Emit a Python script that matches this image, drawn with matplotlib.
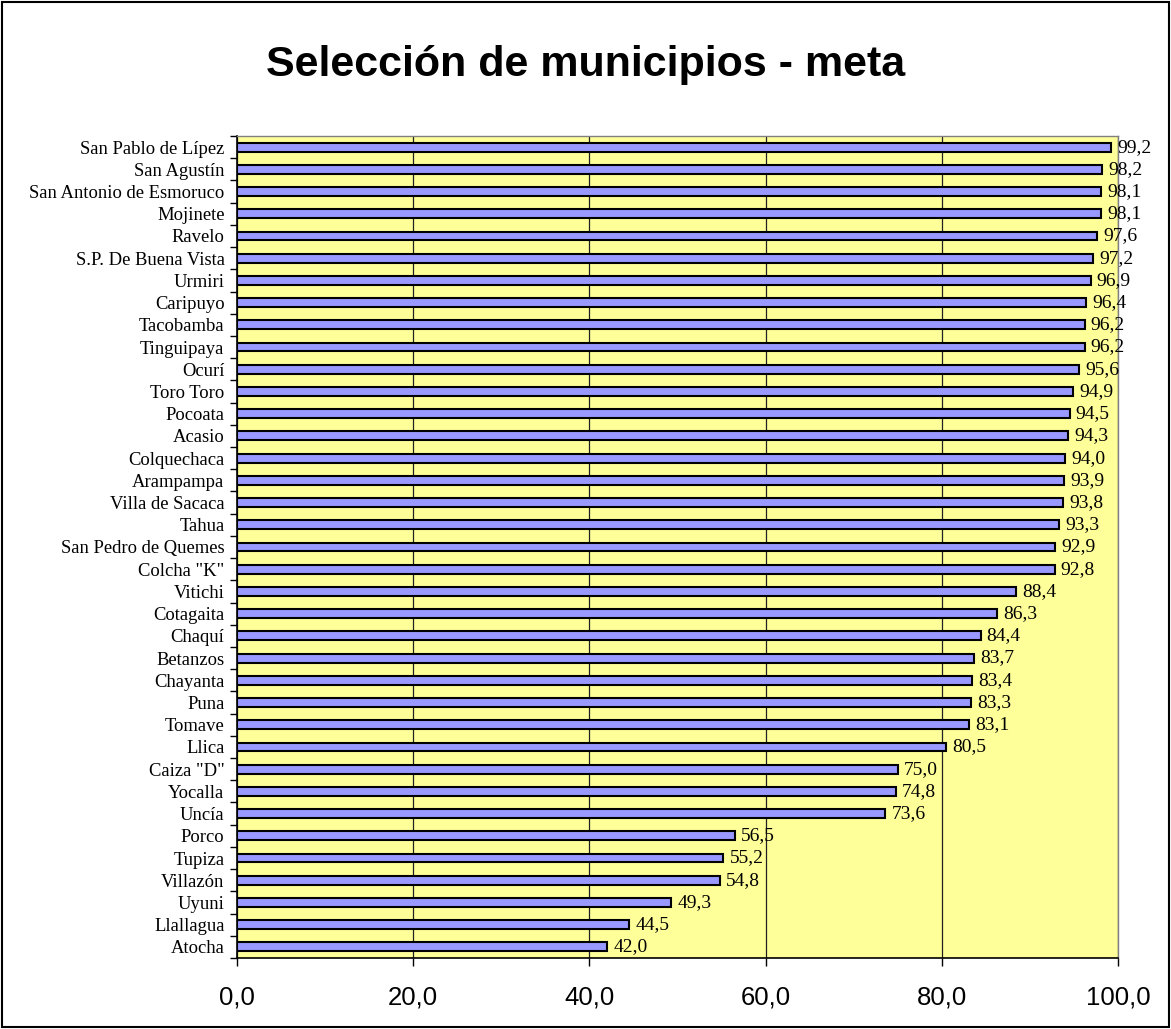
import matplotlib
matplotlib.use("Agg")
import matplotlib.pyplot as plt
from matplotlib.patches import Rectangle

categories = ["San Pablo de Lípez", "San Agustín", "San Antonio de Esmoruco", "Mojinete",
              "Ravelo", "S.P. De Buena Vista", "Urmiri", "Caripuyo", "Tacobamba",
              "Tinguipaya", "Ocurí", "Toro Toro", "Pocoata", "Acasio", "Colquechaca",
              "Arampampa", "Villa de Sacaca", "Tahua", "San Pedro de Quemes", 'Colcha "K"',
              "Vitichi", "Cotagaita", "Chaquí", "Betanzos", "Chayanta", "Puna", "Tomave",
              "Llica", 'Caiza "D"', "Yocalla", "Uncía", "Porco", "Tupiza", "Villazón",
              "Uyuni", "Llallagua", "Atocha"]
values = [99.2, 98.2, 98.1, 98.1, 97.6, 97.2, 96.9, 96.4, 96.2, 96.2, 95.6, 94.9, 94.5,
          94.3, 94.0, 93.9, 93.8, 93.3, 92.9, 92.8, 88.4, 86.3, 84.4, 83.7, 83.4, 83.3,
          83.1, 80.5, 75.0, 74.8, 73.6, 56.5, 55.2, 54.8, 49.3, 44.5, 42.0]
xticks = [0, 20, 40, 60, 80, 100]
title = "Selección de municipios - meta"

W, H = 1171, 1029
fig = plt.figure(figsize=(W / 100, H / 100), dpi=100)
fig.patches.append(Rectangle((2 / W, 2 / H), 1 - 4 / W, 1 - 4 / H, transform=fig.transFigure,
                             fill=False, edgecolor="black", linewidth=1.5))

left, right, top, bottom = 237, 1118, 136, 958
ax = fig.add_axes([left / W, 1 - bottom / H, (right - left) / W, (bottom - top) / H])
ax.set_facecolor("#FFFF99")

n = len(categories)
ypos = list(range(n))[::-1]
ax.barh(ypos, values, height=0.4, color="#9999FF", edgecolor="black", linewidth=1.5, zorder=3)
for y, v in zip(ypos, values):
    ax.text(v + 0.7, y, f"{v:.1f}".replace(".", ","), va="center", ha="left",
            fontsize=14, family="Liberation Serif", zorder=4, clip_on=False)

ax.set_xlim(0, 100)
ax.set_ylim(-0.5, n - 0.5)
ax.set_xticks(xticks)
ax.set_xticklabels([f"{t:.1f}".replace(".", ",") for t in xticks],
                   fontsize=18.5, family="Liberation Sans")
ax.xaxis.grid(True, color="#202020", linewidth=0.9, zorder=1)
ax.set_axisbelow(True)

ax.set_yticks(ypos)
ax.set_yticklabels(categories, fontsize=13.4, family="Liberation Serif")
ax.set_yticks([i - 0.5 for i in range(n + 1)], minor=True)
ax.tick_params(axis="y", which="major", length=0, pad=9)
ax.tick_params(axis="y", which="minor", length=5, direction="out", width=1)
ax.tick_params(axis="x", length=6, direction="out", width=1, pad=14)

for s in ["left", "bottom"]:
    ax.spines[s].set_color("black")
    ax.spines[s].set_linewidth(1.2)
for s in ["top", "right"]:
    ax.spines[s].set_color("#808080")
    ax.spines[s].set_linewidth(1)

fig.text(0.5, 1 - 76 / H, title, ha="center", va="baseline", fontsize=31,
         fontweight="bold", family="Liberation Sans")

fig.savefig("out.png", dpi=100)
